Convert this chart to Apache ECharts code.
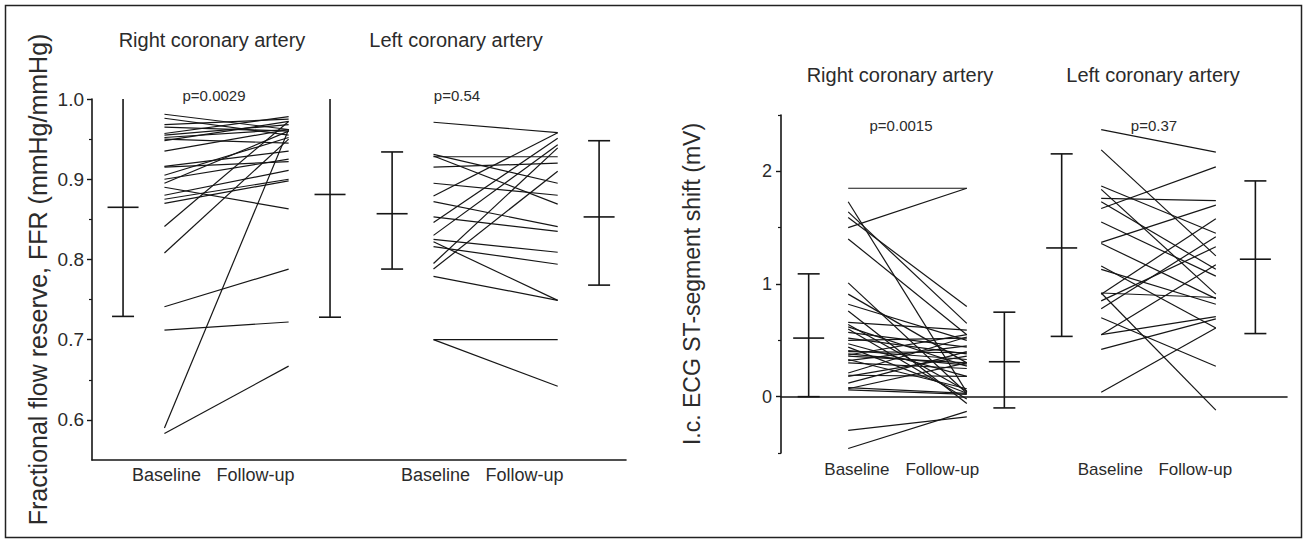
<!DOCTYPE html>
<html>
<head>
<meta charset="utf-8">
<title>FFR and ST-segment shift, baseline vs follow-up</title>
<script src="https://cdn.jsdelivr.net/npm/echarts@6/dist/echarts.min.js"></script>
<style>
  html, body { margin: 0; padding: 0; background: #fff; }
  #chart { width: 1308px; height: 544px; }
</style>
</head>
<body>
<div id="chart"></div>
<script>
// labels
var groupTitles = ['Right coronary artery', 'Left coronary artery'];
var timeLabels = ['Baseline', 'Follow-up'];
var ffrPValues = ['p=0.0029', 'p=0.54'];
var stPValues = ['p=0.0015', 'p=0.37'];
var ffrTicks = [0.6, 0.7, 0.8, 0.9, 1.0];
var ffrMinorTicks = [0.65, 0.75, 0.85, 0.95];
var stTicks = [0, 1, 2];
var stMinorTicks = [-0.5, 0.5, 1.5, 2.5];

// FFR, one value per patient
var rcaFfrBaseline = [0.981, 0.976, 0.968, 0.965, 0.957, 0.955, 0.952, 0.950, 0.948, 0.935, 0.916, 0.915, 0.905,
  0.900, 0.895, 0.890, 0.880, 0.875, 0.870, 0.841, 0.808, 0.741, 0.712, 0.590, 0.583];
var rcaFfrFollowUp = [0.962, 0.955, 0.975, 0.960, 0.978, 0.968, 0.962, 0.945, 0.972, 0.962, 0.935, 0.922, 0.952,
  0.925, 0.960, 0.863, 0.911, 0.900, 0.898, 0.972, 0.950, 0.788, 0.722, 0.962, 0.667];
var lcaFfrBaseline = [0.971, 0.931, 0.929, 0.928, 0.915, 0.895, 0.879, 0.872, 0.853, 0.846, 0.830, 0.825, 0.822,
  0.816, 0.795, 0.788, 0.779, 0.700, 0.700];
var lcaFfrFollowUp = [0.958, 0.895, 0.869, 0.928, 0.920, 0.880, 0.958, 0.841, 0.835, 0.951, 0.943, 0.809, 0.749,
  0.794, 0.939, 0.910, 0.749, 0.700, 0.642];

// i.c. ECG ST-segment shift (mV), one value per patient
var rcaStBaseline = [1.85, 1.50, 1.73, 1.64, 1.59, 1.40, 1.01, 0.91, 0.82, 0.76, 0.66, 0.64, 0.62, 0.60, 0.57, 0.52,
  0.50, 0.47, 0.44, 0.41, 0.40, 0.38, 0.37, 0.36, 0.33, 0.32, 0.30, 0.21, 0.19, 0.18, 0.12, 0.08, 0.06, 0.07, -0.30, -0.46];
var rcaStFollowUp = [1.85, 1.85, 0.04, 0.65, 0.80, 0.55, 0.03, 0.30, 0.50, -0.06, 0.59, 0.05, 0.27, -0.02, 0.44, 0.38,
  0.52, 0.18, 0.03, 0.33, 0.39, 0.28, 0.55, 0.30, 0.07, 0.45, 0.25, 0.53, 0.18, 0.36, 0.40, 0.03, 0.02, 0.30, -0.18, -0.13];
var lcaStBaseline = [2.37, 2.19, 1.87, 1.84, 1.76, 1.73, 1.67, 1.55, 1.37, 1.36, 1.16, 1.13, 0.92, 0.91, 0.85, 0.78,
  0.70, 0.55, 0.55, 0.42, 0.04, 0.92];
var lcaStFollowUp = [2.17, 1.25, 1.45, 0.91, 1.74, 1.13, 2.04, 1.07, 1.70, 0.87, 0.61, 0.82, 0.88, 1.58, 1.33, 1.42,
  0.27, 1.17, 0.71, 0.69, 0.61, -0.12];

// mean and SD range: RCA baseline, RCA follow-up, LCA baseline, LCA follow-up
var ffrLow = [0.729, 0.728, 0.788, 0.768];
var ffrMean = [0.865, 0.881, 0.857, 0.853];
var ffrHigh = [1.0, 1.0, 0.934, 0.948];
var stLow = [0.0, -0.10, 0.535, 0.56];
var stMean = [0.52, 0.31, 1.32, 1.22];
var stHigh = [1.09, 0.75, 2.155, 1.915];

// slot positions on the hidden x scale of each panel
var ffrSlots = { summary: [0.75, 5.75, 7.25, 12.25], baseline: [1.75, 8.25], followUp: [4.75, 11.25],
  labels: [1.8, 3.95, 8.3, 10.45], max: 12.9 };
var stSlots = { summary: [0.7, 5.65, 7.1, 12.0], baseline: [1.7, 8.1], followUp: [4.7, 11.0],
  labels: [1.92, 4.08, 8.33, 10.48], max: 12.8 };

var FONT = '"Liberation Sans", Arial, sans-serif';
var INK = '#161616';
var TEXT = '#2b2b2b';

function pairSeries(xi, yi, base, follow, slots, g) {
  return {
    type: 'custom', xAxisIndex: xi, yAxisIndex: yi, silent: true,
    encode: { y: [0, 1] },
    data: base.map(function (b, i) { return [b, follow[i]]; }),
    renderItem: function (params, api) {
      var a = api.coord([slots.baseline[g], api.value(0)]);
      var b = api.coord([slots.followUp[g], api.value(1)]);
      return { type: 'line', shape: { x1: a[0], y1: a[1], x2: b[0], y2: b[1] },
        style: { stroke: INK, lineWidth: 1.2 } };
    }
  };
}

function summarySeries(xi, yi, low, mean, high, slots, axisMax) {
  return {
    type: 'custom', xAxisIndex: xi, yAxisIndex: yi, silent: true,
    encode: { x: 0, y: [1, 2, 3] },
    data: mean.map(function (m, i) { return [slots.summary[i], low[i], m, high[i]]; }),
    renderItem: function (params, api) {
      var x = api.value(0), hi = api.value(3);
      var top = api.coord([x, Math.min(hi, axisMax)]);
      var bot = api.coord([x, api.value(1)]);
      var mid = api.coord([x, api.value(2)]);
      var st = { stroke: INK, lineWidth: 1.6 };
      var kids = [
        { type: 'line', shape: { x1: top[0], y1: top[1], x2: bot[0], y2: bot[1] }, style: st },
        { type: 'line', shape: { x1: mid[0] - 15.5, y1: mid[1], x2: mid[0] + 15.5, y2: mid[1] }, style: st },
        { type: 'line', shape: { x1: bot[0] - 11, y1: bot[1], x2: bot[0] + 11, y2: bot[1] }, style: st }
      ];
      if (hi < axisMax) {
        kids.push({ type: 'line', shape: { x1: top[0] - 11, y1: top[1], x2: top[0] + 11, y2: top[1] }, style: st });
      }
      return { type: 'group', children: kids };
    }
  };
}

function txt(text, x, y, size) {
  return { type: 'text', x: x, y: y, silent: true,
    style: { text: text, fontSize: size, fontFamily: FONT, fill: TEXT, align: 'center', verticalAlign: 'middle' } };
}

var chart = echarts.init(document.getElementById('chart'), null, { renderer: 'svg' });

chart.setOption({
  backgroundColor: '#fff',
  animation: false,
  grid: [
    { left: 92, top: 99, width: 534, height: 361 },
    { left: 781, top: 115, width: 506, height: 338 }
  ],
  xAxis: [
    { gridIndex: 0, type: 'value', min: 0, max: ffrSlots.max, position: 'bottom',
      axisLine: { show: true, onZero: false, lineStyle: { color: INK, width: 1.6 } },
      axisTick: { show: false }, splitLine: { show: false },
      axisLabel: { customValues: ffrSlots.labels, margin: 6, fontSize: 18, fontFamily: FONT, color: TEXT,
        formatter: function (v) { return timeLabels[ffrSlots.labels.indexOf(v) % 2]; } } },
    { gridIndex: 1, type: 'value', min: 0, max: stSlots.max, position: 'bottom',
      axisLine: { show: false, onZero: false },
      axisTick: { show: false }, splitLine: { show: false },
      axisLabel: { customValues: stSlots.labels, margin: 8, fontSize: 17, fontFamily: FONT, color: TEXT,
        formatter: function (v) { return timeLabels[stSlots.labels.indexOf(v) % 2]; } } },
    // zero line of the ST panel
    { gridIndex: 1, type: 'value', min: 0, max: stSlots.max, position: 'top',
      axisLine: { show: true, onZero: true, lineStyle: { color: INK, width: 1.6 } },
      axisTick: { show: false }, axisLabel: { show: false }, splitLine: { show: false } }
  ],
  yAxis: [
    { gridIndex: 0, type: 'value', min: 0.55, max: 1.0, position: 'left',
      name: 'Fractional flow reserve, FFR (mmHg/mmHg)', nameLocation: 'middle', nameGap: 42,
      nameTextStyle: { fontSize: 25, fontFamily: FONT, color: TEXT },
      axisLine: { show: true, onZero: false, lineStyle: { color: INK, width: 1.6 } },
      axisTick: { show: true, customValues: ffrTicks, length: 5, lineStyle: { color: INK, width: 1.4 } },
      axisLabel: { customValues: ffrTicks, margin: 8, fontSize: 19, fontFamily: FONT, color: TEXT,
        formatter: function (v) { return v.toFixed(1); } },
      splitLine: { show: false } },
    { gridIndex: 0, type: 'value', min: 0.55, max: 1.0, position: 'left',
      axisLine: { show: false, onZero: false },
      axisTick: { show: true, customValues: ffrMinorTicks, length: 3, lineStyle: { color: INK, width: 1.2 } },
      axisLabel: { show: false }, splitLine: { show: false } },
    { gridIndex: 1, type: 'value', min: -0.5, max: 2.5, position: 'left',
      name: 'I.c. ECG ST-segment shift (mV)', nameLocation: 'middle', nameGap: 78,
      nameTextStyle: { fontSize: 23, fontFamily: FONT, color: TEXT },
      axisLine: { show: true, onZero: false, lineStyle: { color: INK, width: 1.6 } },
      axisTick: { show: true, customValues: stTicks, length: 5, lineStyle: { color: INK, width: 1.4 } },
      axisLabel: { customValues: stTicks, margin: 9, fontSize: 18, fontFamily: FONT, color: TEXT },
      splitLine: { show: false } },
    { gridIndex: 1, type: 'value', min: -0.5, max: 2.5, position: 'left',
      axisLine: { show: false, onZero: false },
      axisTick: { show: true, customValues: stMinorTicks, length: 3, lineStyle: { color: INK, width: 1.2 } },
      axisLabel: { show: false }, splitLine: { show: false } }
  ],
  graphic: [
    { type: 'rect', silent: true, shape: { x: 5.5, y: 5.5, width: 1296, height: 532 },
      style: { fill: 'none', stroke: '#222', lineWidth: 1.5 } },
    txt(groupTitles[0], 212, 40, 20), txt(groupTitles[1], 456, 40, 20),
    txt(ffrPValues[0], 214, 95, 15), txt(ffrPValues[1], 457, 95, 15),
    txt(groupTitles[0], 900, 75, 20), txt(groupTitles[1], 1153, 75, 20),
    txt(stPValues[0], 901, 125, 15), txt(stPValues[1], 1154, 125, 15)
  ],
  series: [
    pairSeries(0, 0, rcaFfrBaseline, rcaFfrFollowUp, ffrSlots, 0),
    pairSeries(0, 0, lcaFfrBaseline, lcaFfrFollowUp, ffrSlots, 1),
    summarySeries(0, 0, ffrLow, ffrMean, ffrHigh, ffrSlots, 1.0),
    pairSeries(1, 2, rcaStBaseline, rcaStFollowUp, stSlots, 0),
    pairSeries(1, 2, lcaStBaseline, lcaStFollowUp, stSlots, 1),
    summarySeries(1, 2, stLow, stMean, stHigh, stSlots, 2.5)
  ]
});
</script>
</body>
</html>
